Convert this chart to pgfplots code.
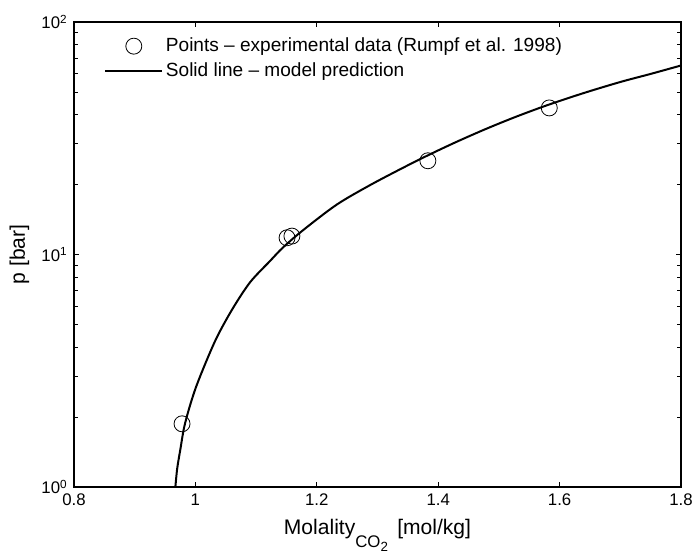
\documentclass[border=0pt]{standalone}
\usepackage{pgfplots}
\pgfplotsset{compat=1.18}
\usepackage{fontspec}
\setmainfont{Liberation Sans}
\newcommand{\fs}{\fontsize{14.3}{16.5}\selectfont}
\newcommand{\ft}{\fontsize{12.6}{14.5}\selectfont}
\newcommand{\fl}{\fontsize{15.8}{18}\selectfont}
\pgfplotsset{
  legline/.style={legend image code/.code={\draw[##1] (0cm,0cm) -- (1.5cm,0cm);}},
  legmark/.style={legend image code/.code={\draw[mark repeat=2,mark phase=2,##1] plot coordinates {(0cm,0cm) (0.75cm,0cm) (1.5cm,0cm)};}},
}
\begin{document}
\fs
\begin{tikzpicture}
\begin{axis}[
  scale only axis, width=455.25pt, height=348.75pt,
  xmin=0.8, xmax=1.8, ymode=log, ymin=1, ymax=100,
  xtick={0.8,1,1.2,1.4,1.6,1.8},
  ytick={1,10,100},
  yticklabels={10\textsuperscript{0},10\textsuperscript{1},10\textsuperscript{2}},
  xticklabel style={/pgf/number format/assume math mode=true, font=\ft},
  yticklabel style={font=\ft},
  tick align=inside, major tick length=4pt, minor tick length=3pt,
  tick style={black, line width=0.6pt},
  axis line style={line width=0.8pt},
  xlabel={Molality\raisebox{-9.75pt}{\fontsize{12.6}{14}\selectfont CO\raisebox{-3.5pt}{\fontsize{10}{11}\selectfont 2}}\hspace{7pt}[mol/kg]},
  ylabel={p [bar]},
  xlabel style={font=\fl, at={([yshift=-35.25pt]axis description cs:0.5,0)}, anchor=base},
  ylabel style={font=\fl, at={([xshift=-36.75pt]axis description cs:0,0.5)}, anchor=base},
  legend style={draw=none, fill=none, at={(rel axis cs:0.043,0.978)}, anchor=north west,
    font=\fs, row sep=2pt},
  legend cell align=left,
]
\coordinate (bl) at (rel axis cs:0,0);
\coordinate (tr) at (rel axis cs:1,1);
\addplot[only marks, mark=o, mark size=6pt, line width=0.6pt, legmark]
  coordinates {(0.978,1.87) (1.151,11.8) (1.159,12.0) (1.383,25.3) (1.583,42.7)};
\addlegendentry{Points -- experimental data (Rumpf et al. 1998)}
\addplot[black, line width=1.5pt, smooth, legline]
  coordinates {(0.967,1.0) (0.970,1.2) (0.975,1.44) (0.983,1.88) (1.001,2.69) (1.032,4.22) (1.060,5.77) (1.090,7.59) (1.123,9.38) (1.144,10.7) (1.177,12.7) (1.233,16.4) (1.288,19.9) (1.342,23.6) (1.383,26.7) (1.43,30.5) (1.48,34.8) (1.53,39.3) (1.581,44.0) (1.64,49.5) (1.70,55.2) (1.75,59.8) (1.8,65.0)};
\addlegendentry{Solid line -- model prediction}
\end{axis}
\pgfresetboundingbox
\path[use as bounding box] ([shift={(-55.5pt,-49.5pt)}]bl) rectangle ([shift={(11.25pt,16.5pt)}]tr);
\end{tikzpicture}
\end{document}
